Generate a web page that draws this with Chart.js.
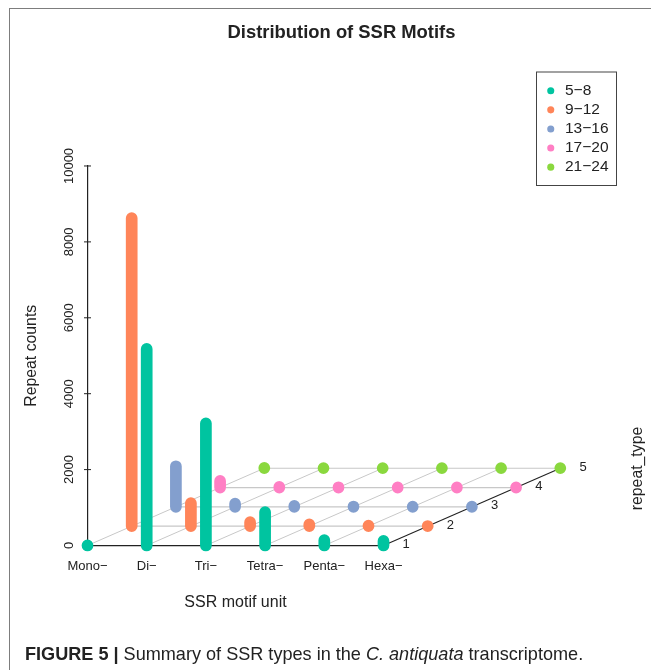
<!DOCTYPE html>
<html><head><meta charset="utf-8">
<style>
html,body{margin:0;padding:0;background:#fff;width:651px;height:670px;overflow:hidden}
#wrap{position:relative;width:651px;height:670px}
canvas{position:absolute;left:0;top:0}
#frame{position:absolute;left:9px;top:8px;right:0;bottom:0;border-left:1px solid #7d7d7d;border-top:1px solid #7d7d7d}
#caption{position:absolute;left:25px;top:644px;font:18.1px "Liberation Sans",Arial,sans-serif;color:#222;white-space:nowrap}
</style>
<script src="https://cdn.jsdelivr.net/npm/chart.js@4"></script>
</head><body>
<div id="wrap">
<div id="frame"></div>
<canvas id="c" width="651" height="670"></canvas>
<div id="caption"><b>FIGURE 5 |</b> Summary of SSR types in the <i>C. antiquata</i> transcriptome.</div>
</div>
<script>
const categories = ['Mono−','Di−','Tri−','Tetra−','Penta−','Hexa−'];
const repeatRanges = ['5−8','9−12','13−16','17−20','21−24'];
const depthTicks = [1,2,3,4,5];
const yTicks = [0,2000,4000,6000,8000,10000];
const counts5to8   = [5,5180,3220,880,140,120];
const counts9to12  = [8120,610,105,50,15,5];
const counts13to16 = [1070,85,25,10,5,5];
const counts17to20 = [175,20,8,5,5,5];
const counts21to24 = [10,5,5,5,5,5];
const seriesValues = [counts5to8,counts9to12,counts13to16,counts17to20,counts21to24];
const seriesColors = ['#00C4A0','#FF8559','#839FCE','#FF7FC4','#8AD83E'];

// oblique projection of the depth axis, expressed in axis units
const depthX = 0.7466, depthY = 509;
const px = (i,d) => i + d*depthX;
const py = (v,d) => v + d*depthY;
const gap = {x:null,y:null};

const seriesDatasets = seriesValues.map((vals,d)=>{
  const pts=[];
  vals.forEach((v,i)=>{pts.push({x:px(i,d),y:py(0,d)},{x:px(i,d),y:py(v,d)},gap);});
  return {label:repeatRanges[d],data:pts,borderColor:seriesColors[d],backgroundColor:seriesColors[d],
    borderWidth:11.7,borderCapStyle:'round',pointRadius:0,clip:false,spanGaps:false};
});
const gridLine = (pts,color,w)=>({label:'',data:pts,borderColor:color,borderWidth:w,pointRadius:0,clip:false,spanGaps:false,borderCapStyle:'butt'});
const lastCat = categories.length-1, lastDepth = depthTicks.length-1;
const rows=[], cols=[];
for(let d=1;d<=lastDepth;d++) rows.push({x:px(0,d),y:py(0,d)},{x:px(lastCat,d),y:py(0,d)},gap);
for(let i=0;i<lastCat;i++) cols.push({x:px(i,0),y:py(0,0)},{x:px(i,lastDepth),y:py(0,lastDepth)},gap);
const edge=[{x:px(lastCat,0),y:py(0,0)},{x:px(lastCat,lastDepth),y:py(0,lastDepth)},gap];

const inkColor='#222';
const FONT='"Liberation Sans",Arial,sans-serif';

const sketchPlugin={
  id:'sketch',
  afterLayout(chart){
    chart.titleBlock.left=32; chart.titleBlock.right=651; chart.titleBlock.width=619;
    const lg=chart.legend;
    lg.left=540.65; lg.right=640; lg.top=79.4; lg.bottom=200;
  },
  beforeDraw(chart){
    const c=chart.ctx;
    c.save();c.strokeStyle='#444';c.lineWidth=1;c.strokeRect(536.5,72,80,113.5);c.restore();
  },
  afterDraw(chart){
    const c=chart.ctx,xs=chart.scales.x,ys=chart.scales.y;
    c.save();
    c.strokeStyle=inkColor;c.lineWidth=1;c.fillStyle=inkColor;
    const ax=xs.getPixelForValue(0);
    c.font='13px '+FONT;c.textAlign='center';c.textBaseline='middle';
    yTicks.forEach(v=>{
      const y=ys.getPixelForValue(v);
      if(v>0){c.beginPath();c.moveTo(ax-3.5,y);c.lineTo(ax+3.5,y);c.stroke();}
      c.save();c.translate(69,y);c.rotate(-Math.PI/2);c.fillText(String(v),0,0);c.restore();
    });
    depthTicks.forEach((t,d)=>{
      c.fillText(String(t),xs.getPixelForValue(px(lastCat,d))+22.7,ys.getPixelForValue(py(0,d))-1);
    });
    c.font='15.8px '+FONT;
    c.save();c.translate(637.5,468.5);c.rotate(-Math.PI/2);c.fillText('repeat_type',0,0);c.restore();
    c.restore();
  }
};

new Chart(document.getElementById('c'),{
  type:'line',
  data:{datasets:[...seriesDatasets,gridLine(edge,'#222',1.1),gridLine(rows,'#c8c8c8',1.2),gridLine(cols,'#c8c8c8',1)]},
  plugins:[sketchPlugin],
  options:{
    responsive:false,animation:false,
    layout:{padding:{left:0,right:267.5,top:0,bottom:0}},
    plugins:{
      tooltip:{enabled:false},
      title:{display:true,text:'Distribution of SSR Motifs',color:'#222',
        font:{family:FONT,size:18.4,weight:'bold',lineHeight:1.2},padding:{top:22,bottom:121.9}},
      legend:{display:true,position:'chartArea',align:'start',
        labels:{font:{family:FONT,size:15.5,lineHeight:1},color:'#222',usePointStyle:true,boxHeight:5,boxWidth:13,padding:3.6,
          generateLabels:()=>repeatRanges.map((t,i)=>({text:t,fillStyle:seriesColors[i],strokeStyle:seriesColors[i],lineWidth:0,pointStyle:'circle',datasetIndex:i,hidden:false,fontColor:'#222'}))}}
    },
    scales:{
      x:{type:'linear',min:0,max:lastCat,
        afterBuildTicks(s){s.ticks=categories.map((_,i)=>({value:i}));},
        afterFit(s){s.height=124.5;},
        grid:{display:false},border:{display:true,color:'#222',width:1.2},
        ticks:{autoSkip:false,maxRotation:0,minRotation:0,padding:5,color:'#222',font:{family:FONT,size:13},callback:v=>categories[v]},
        title:{display:true,text:'SSR motif unit',color:'#222',font:{family:FONT,size:16,lineHeight:1.2},padding:{top:0,bottom:58}}},
      y:{type:'linear',min:0,max:yTicks[yTicks.length-1],
        afterBuildTicks(s){s.ticks=yTicks.map(v=>({value:v}));},
        afterFit(s){s.width=87.5;},
        grid:{display:false},border:{display:true,color:'#222',width:1.2},
        ticks:{display:false},
        title:{display:true,text:'Repeat counts',color:'#222',font:{family:FONT,size:15.8,lineHeight:1.2},padding:{top:22,bottom:0}}}
    }
  }
});
</script>
</body></html>
